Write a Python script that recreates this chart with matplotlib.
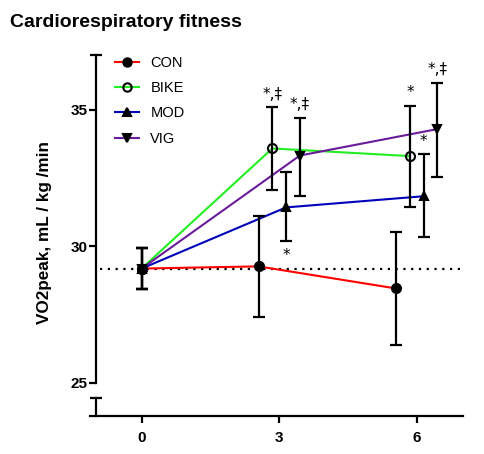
import matplotlib
matplotlib.use('Agg')
import matplotlib.pyplot as plt

plt.rcParams['font.family'] = ['Liberation Sans', 'DejaVu Sans']

# Months after baseline
months = [0, 3, 6]
groups = ['CON', 'BIKE', 'MOD', 'VIG']

# Mean VO2peak and error bar ends
con_mean = [29.19, 29.27, 28.46]
con_low = [28.45, 27.42, 26.38]
con_high = [29.93, 31.10, 30.52]

bike_mean = [29.19, 33.59, 33.31]
bike_low = [28.45, 32.06, 31.44]
bike_high = [29.93, 35.10, 35.16]

mod_mean = [29.19, 31.43, 31.84]
mod_low = [28.45, 30.19, 30.35]
mod_high = [29.93, 32.73, 33.37]

vig_mean = [29.19, 33.33, 34.30]
vig_low = [28.45, 31.83, 32.55]
vig_high = [29.93, 34.71, 35.99]

# significance labels at 3 and 6 months
bike_sig = ['*,\u2021', '*']
mod_sig = ['*', '*']
vig_sig = ['*,\u2021', '*,\u2021']

baseline = 29.19

series = [
    ('CON', con_mean, con_low, con_high, 'red', 'o', 'black', None),
    ('BIKE', bike_mean, bike_low, bike_high, '#22ee22', 'o', 'none', bike_sig),
    ('MOD', mod_mean, mod_low, mod_high, '#0000bb', '^', 'black', mod_sig),
    ('VIG', vig_mean, vig_low, vig_high, '#6a1b9a', 'v', 'black', vig_sig),
]

fig = plt.figure(figsize=(4.84, 4.54), dpi=100)
ax = fig.add_axes([95.7 / 484, 1 - 415.7 / 454, (462.7 - 95.7) / 484, (415.7 - 49.9) / 454])
ax.set_xlim(-1, 7.0)
ax.set_ylim(23.8, 37.2)

# dotted baseline
ax.plot([-0.9, 6.95], [baseline, baseline], color='black', linestyle=(0, (1, 2.5)),
        linewidth=1.6, zorder=1)

# each group sits a little to the side of the time point
for i, (name, mean, low, high, col, mk, fc, sig) in enumerate(series):
    shift = -0.45 + 0.3 * i
    xs = [m + (shift if m > 0 else 0) for m in months]
    ax.plot(xs, mean, color=col, linewidth=1.5, zorder=2)
    yerr = [[m - l for m, l in zip(mean, low)], [h - m for m, h in zip(mean, high)]]
    ax.errorbar(xs, mean, yerr=yerr, fmt='none', ecolor='black', elinewidth=1.6,
                capsize=4.5, capthick=1.6, zorder=3)
    ax.plot(xs, mean, linestyle='none', marker=mk, markersize=6.5 if mk == 'o' else 6,
            markerfacecolor=fc, markeredgecolor='black', markeredgewidth=1.5, zorder=4)
    ax.plot([], [], color=col, linewidth=1.5, marker=mk, markersize=6 if mk == 'o' else 5.5,
            markerfacecolor=fc, markeredgecolor='black', markeredgewidth=1.5, label=name)
    if sig:
        for j in (1, 2):
            if name == 'MOD' and j == 1:
                ax.text(xs[j], low[j] - 0.25, sig[j - 1], ha='center', va='top',
                        fontsize=11, family='DejaVu Sans')
            else:
                ax.text(xs[j], high[j] + 0.2, sig[j - 1], ha='center', va='bottom',
                        fontsize=11, family='DejaVu Sans')

# broken y axis drawn by hand
for side in ['left', 'right', 'top', 'bottom']:
    ax.spines[side].set_visible(False)
ax.plot([-1, -1], [25, 37], color='black', linewidth=1.6, clip_on=False)
ax.plot([-1, -1], [23.8, 24.45], color='black', linewidth=1.6, clip_on=False)
ax.plot([-1, -1], [37, 24.45], linestyle='none', marker='_', markersize=9,
        markeredgewidth=1.6, color='black', clip_on=False)
ax.plot([-1.12, 7.0], [23.8, 23.8], color='black', linewidth=1.6, clip_on=False)

ax.set_yticks([25, 30, 35])
ax.set_xticks(months)
ax.tick_params(axis='both', width=1.6, length=5, labelsize=11, direction='out')
ax.tick_params(axis='y', pad=1)
ax.tick_params(axis='x', pad=6)
for lab in ax.get_xticklabels() + ax.get_yticklabels():
    lab.set_fontweight('bold')

ax.set_ylabel('VO2peak, mL / kg /min', fontsize=12.3, fontweight='bold', labelpad=13)

ax.legend(loc='upper left', bbox_to_anchor=(0.018, 1.02), frameon=False, fontsize=10.5,
          labelspacing=0.78, handlelength=1.6, handletextpad=0.8)

fig.text(10 / 484, 1 - 27 / 454, 'Cardiorespiratory fitness', fontsize=14,
         fontweight='bold', va='baseline', ha='left')

fig.savefig('out.png', dpi=100)
